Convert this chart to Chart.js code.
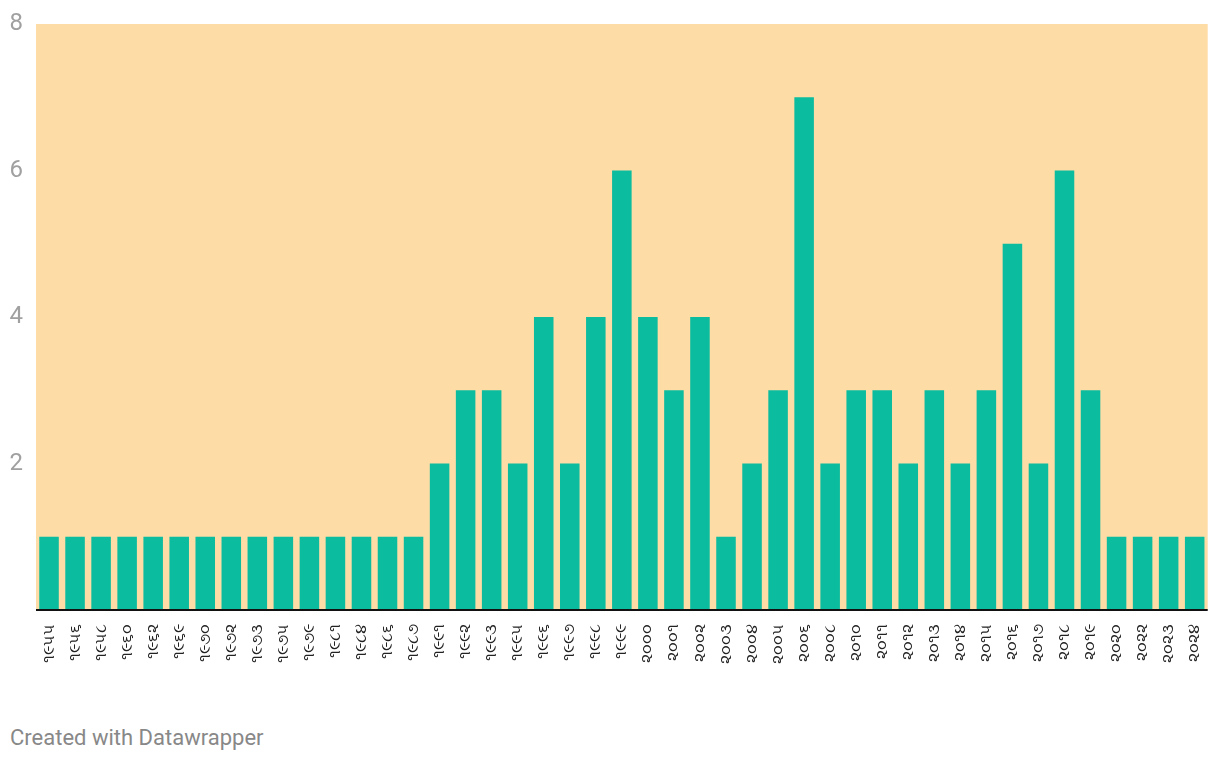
<!DOCTYPE html>
<html>
<head>
<meta charset="utf-8">
<script src="https://cdn.jsdelivr.net/npm/chart.js@4.4.1/dist/chart.umd.min.js"></script>
<style>
  body { margin: 0; background: #fff; font-family: Roboto, sans-serif; }
  #wrap { position: relative; width: 1220px; height: 700px; }
  #footer { position: absolute; left: 10px; top: 725px; font-size: 22px; color: #888; }
</style>
</head>
<body>
<div id="wrap"><canvas id="chart"></canvas></div>
<div id="footer">Created with Datawrapper</div>
<script>
// years (gujarati digits) and counts
const years = ['૧૯૫૫', '૧૯૫૬', '૧૯૫૮', '૧૯૬૦', '૧૯૬૨', '૧૯૬૯', '૧૯૭૦', '૧૯૭૨', '૧૯૭૩', '૧૯૭૫',
  '૧૯૭૯', '૧૯૮૧', '૧૯૮૪', '૧૯૮૬', '૧૯૮૭', '૧૯૯૧', '૧૯૯૨', '૧૯૯૩', '૧૯૯૫', '૧૯૯૬',
  '૧૯૯૭', '૧૯૯૮', '૧૯૯૯', '૨૦૦૦', '૨૦૦૧', '૨૦૦૨', '૨૦૦૩', '૨૦૦૪', '૨૦૦૫', '૨૦૦૬',
  '૨૦૦૮', '૨૦૧૦', '૨૦૧૧', '૨૦૧૨', '૨૦૧૩', '૨૦૧૪', '૨૦૧૫', '૨૦૧૬', '૨૦૧૭', '૨૦૧૮',
  '૨૦૧૯', '૨૦૨૦', '૨૦૨૨', '૨૦૨૩', '૨૦૨૪']
const counts = [1, 1, 1, 1, 1, 1, 1, 1, 1, 1,
  1, 1, 1, 1, 1, 2, 3, 3, 2, 4,
  2, 4, 6, 4, 3, 4, 1, 2, 3, 7,
  2, 3, 3, 2, 3, 2, 3, 5, 2, 6,
  3, 1, 1, 1, 1]
const yTicks = [2, 4, 6, 8]

// orange plot background + black baseline
const plotBg = {
  id: 'plotBg',
  beforeDraw(chart) {
    const a = chart.chartArea
    const ctx = chart.ctx
    ctx.save()
    ctx.fillStyle = '#fddca6'
    ctx.fillRect(a.left, a.top, a.right - a.left, a.bottom - a.top)
    ctx.restore()
  },
  afterDatasetsDraw(chart) {
    const a = chart.chartArea
    const ctx = chart.ctx
    ctx.save()
    ctx.strokeStyle = '#111'
    ctx.lineWidth = 2
    ctx.beginPath()
    ctx.moveTo(a.left, a.bottom)
    ctx.lineTo(a.right, a.bottom)
    ctx.stroke()
    ctx.restore()
  },
}

const ctx = document.getElementById('chart').getContext('2d')
new Chart(ctx, {
  type: 'bar',
  data: {
    labels: years,
    datasets: [
      {
        data: counts,
        backgroundColor: '#0bbc9f',
        categoryPercentage: 1,
        barPercentage: 0.75,
      },
    ],
  },
  options: {
    responsive: true,
    maintainAspectRatio: false,
    animation: false,
    layout: { padding: { top: 24, right: 10, left: 0, bottom: 0 } },
    scales: {
      x: {
        grid: { display: false },
        border: { display: false },
        ticks: {
          autoSkip: false,
          minRotation: 90,
          maxRotation: 90,
          padding: 6,
          color: '#222',
          font: { family: 'Noto Sans, sans-serif', size: 16 },
        },
        afterFit(scale) { scale.height = 90 },
      },
      y: {
        min: 0,
        max: 8,
        grid: { display: false },
        border: { display: false },
        afterBuildTicks(scale) {
          scale.ticks = yTicks.map(v => ({ value: v }))
        },
        ticks: {
          padding: 5,
          color: '#a0a0a0',
          font: { family: 'Roboto', size: 24 },
        },
        afterFit(scale) { scale.width = 36 },
      },
    },
    plugins: {
      legend: { display: false },
      tooltip: { enabled: false },
    },
  },
  plugins: [plotBg],
})
</script>
</body>
</html>
